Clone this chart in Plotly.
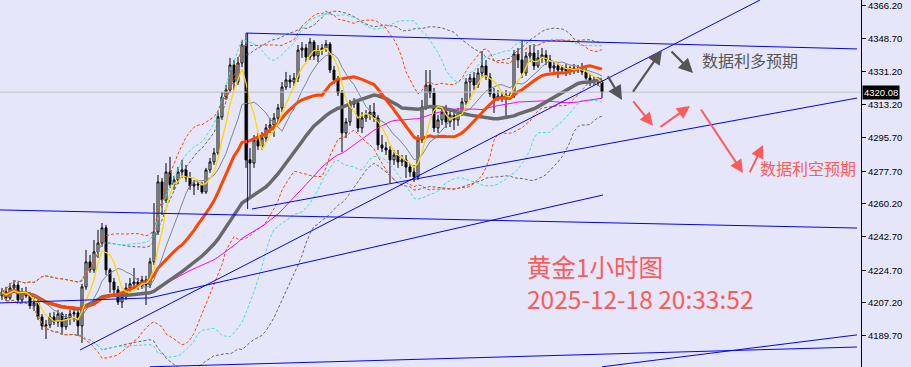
import plotly.graph_objects as go
import pandas as pd

# ---------------- data (gold 1H candles) ----------------
opens = [4211.0,4213.1,4209.9,4215.2,4216.8,4208.8,4213.1,4211.0,4205.6,4207.2,
         4199.7,4194.9,4195.4,4199.7,4197.0,4201.3,4194.4,4199.2,4201.3,4201.9,
         4194.9,4215.8,4229.2,4224.9,4234.5,4239.3,4247.4,4224.9,4218.4,4214.2,
         4207.7,4210.4,4215.2,4217.4,4218.4,4216.3,4219.5,4216.8,4229.2,4245.2,
         4272.0,4262.3,4277.3,4270.4,4273.0,4277.3,4278.4,4274.1,4269.8,4270.9,
         4270.4,4266.6,4278.4,4282.7,4287.5,4306.8,4317.5,4321.2,4334.6,4325.5,
         4335.7,4345.3,4283.8,4282.1,4294.5,4291.2,4295.5,4300.9,4302.5,4306.2,
         4311.6,4322.8,4326.6,4325.5,4327.6,4342.6,4343.7,4338.9,4346.9,4339.4,
         4342.6,4343.7,4345.8,4331.9,4326.6,4319.6,4298.2,4304.1,4313.7,4314.3,
         4300.9,4306.2,4307.8,4309.4,4306.2,4291.8,4290.2,4289.1,4283.8,4286.4,
         4282.7,4283.8,4280.0,4277.3,4274.7,4294.5,4312.1,4323.9,4319.6,4300.9,
         4305.2,4309.4,4304.1,4307.8,4305.2,4309.4,4314.8,4325.5,4327.6,4323.9,
         4330.3,4334.1,4328.2,4319.1,4316.9,4318.0,4316.9,4318.5,4318.0,4340.5,
         4337.3,4330.3,4339.4,4341.0,4334.1,4338.4,4340.0,4337.3,4333.0,4334.1,
         4331.9,4333.0,4331.4,4333.0,4331.9,4333.0,4330.9,4327.6,4325.5,4326.6,
         4325.5]
highs = [4215.2,4215.8,4217.9,4219.5,4218.4,4215.2,4215.8,4213.1,4209.9,4208.8,
         4201.3,4198.1,4201.9,4202.4,4203.5,4202.4,4201.3,4203.5,4204.5,4203.5,
         4217.4,4235.6,4232.9,4240.9,4246.3,4250.0,4249.0,4225.9,4220.6,4216.3,
         4213.1,4217.9,4220.6,4225.9,4220.6,4221.7,4221.7,4231.3,4260.7,4275.7,
         4274.1,4282.1,4285.4,4275.2,4280.0,4283.8,4281.1,4277.3,4273.0,4273.0,
         4272.0,4279.5,4284.8,4290.2,4309.4,4320.2,4323.9,4338.4,4337.3,4338.9,
         4348.0,4351.7,4290.2,4297.1,4298.2,4298.7,4303.0,4306.2,4308.9,4313.7,
         4325.5,4330.9,4329.3,4330.3,4345.3,4346.9,4345.8,4349.1,4348.0,4345.3,
         4345.8,4348.0,4346.9,4334.1,4328.7,4321.2,4306.2,4315.9,4316.9,4315.9,
         4309.4,4310.5,4313.2,4314.3,4307.8,4297.1,4293.4,4291.2,4289.1,4289.1,
         4286.4,4286.4,4282.1,4281.1,4297.1,4315.9,4331.9,4331.9,4322.3,4307.8,
         4311.6,4313.2,4310.5,4310.5,4311.6,4316.9,4327.6,4329.8,4330.9,4333.0,
         4342.1,4337.3,4330.3,4322.3,4321.2,4320.2,4321.2,4320.2,4342.6,4343.7,
         4348.0,4341.6,4345.3,4345.8,4342.6,4343.7,4342.6,4340.0,4336.2,4335.7,
         4334.6,4335.1,4334.1,4335.1,4334.6,4335.7,4333.0,4329.8,4328.7,4328.2,
         4326.6]
lows = [4208.8,4208.3,4208.8,4213.1,4207.7,4207.2,4209.9,4204.0,4202.9,4198.1,
        4192.8,4187.9,4193.8,4195.4,4194.4,4190.6,4192.8,4195.4,4197.0,4189.5,
        4185.8,4214.2,4223.3,4223.3,4231.3,4237.2,4222.2,4212.6,4211.5,4206.1,
        4204.5,4208.8,4213.1,4214.7,4214.2,4214.7,4206.1,4215.2,4227.5,4243.6,
        4254.3,4260.7,4268.8,4267.7,4270.9,4274.1,4272.0,4267.7,4265.0,4267.7,
        4265.6,4265.6,4276.8,4281.1,4286.4,4305.2,4315.9,4319.6,4321.2,4323.9,
        4333.5,4279.5,4263.9,4279.5,4289.1,4289.1,4293.4,4298.2,4296.1,4304.1,
        4309.4,4321.2,4322.3,4323.4,4325.5,4338.4,4336.2,4337.3,4337.3,4336.2,
        4340.0,4341.6,4330.3,4324.4,4318.0,4288.0,4295.5,4302.0,4311.6,4298.7,
        4298.2,4304.1,4305.2,4304.1,4289.1,4288.0,4286.4,4271.4,4281.1,4279.5,
        4280.5,4274.1,4274.7,4272.0,4273.0,4292.9,4310.5,4316.9,4298.7,4298.2,
        4302.5,4300.9,4301.4,4299.8,4302.0,4307.3,4313.2,4315.9,4321.2,4322.3,
        4327.6,4326.6,4317.5,4308.9,4315.3,4314.8,4306.8,4315.9,4316.9,4333.0,
        4327.6,4328.7,4336.2,4331.9,4333.0,4335.7,4334.6,4330.9,4329.3,4327.6,
        4329.8,4328.7,4329.3,4329.8,4330.3,4329.3,4326.6,4323.4,4323.9,4323.4,
        4316.9]
closes = [4213.1,4209.9,4215.2,4216.8,4208.8,4213.1,4211.0,4205.6,4207.2,4199.7,
          4194.9,4195.4,4199.7,4197.0,4201.3,4194.4,4199.2,4201.3,4201.9,4194.9,
          4215.8,4229.2,4224.9,4234.5,4239.3,4247.4,4224.9,4218.4,4214.2,4207.7,
          4210.4,4215.2,4217.4,4218.4,4216.3,4219.5,4216.8,4229.2,4245.2,4272.0,
          4262.3,4277.3,4270.4,4273.0,4277.3,4278.4,4274.1,4269.8,4270.9,4270.4,
          4266.6,4278.4,4282.7,4287.5,4306.8,4317.5,4321.2,4334.6,4325.5,4335.7,
          4345.3,4283.8,4282.1,4294.5,4291.2,4295.5,4300.9,4302.5,4306.2,4311.6,
          4322.8,4326.6,4325.5,4327.6,4342.6,4343.7,4338.9,4346.9,4339.4,4342.6,
          4343.7,4345.8,4331.9,4326.6,4319.6,4298.2,4304.1,4313.7,4314.3,4300.9,
          4306.2,4307.8,4309.4,4306.2,4291.8,4290.2,4289.1,4283.8,4286.4,4282.7,
          4283.8,4280.0,4277.3,4274.7,4294.5,4312.1,4323.9,4319.6,4300.9,4305.2,
          4309.4,4304.1,4307.8,4305.2,4309.4,4314.8,4325.5,4327.6,4323.9,4330.3,
          4334.1,4328.2,4319.1,4316.9,4318.0,4316.9,4318.5,4318.0,4340.5,4337.3,
          4330.3,4339.4,4341.0,4334.1,4338.4,4340.0,4337.3,4333.0,4334.1,4331.9,
          4333.0,4331.4,4333.0,4331.9,4333.0,4330.9,4327.6,4325.5,4326.6,4325.5,
          4320.08]
bars = list(range(len(closes)))
last_price = 4320.08

tick_vals = [4366.20, 4348.70, 4331.20, 4313.20, 4295.70, 4277.70,
             4260.20, 4242.70, 4224.70, 4207.20, 4189.70]
tick_text = ["%.2f" % v for v in tick_vals]

# trendlines: (bar index, price) pairs
trend_a = ([19.5, 189.5], [4182.0, 4369.4])
trend_b = ([62.5, 213.75], [4257.5, 4316.9])
trend_c = ([-0.5, 213.75], [4257.0, 4247.3])
trend_top = ([61.0, 213.75], [4351.7, 4343.2])
trend_vert = ([61.4, 61.4], [4351.7, 4257.5])
trend_d = ([-0.5, 37.0, 150.25], [4207.2, 4209.9, 4265.0])
trend_e = ([37.0, 213.75], [4173.0, 4183.6])
trend_f = ([150.0, 213.75], [4173.0, 4190.1])

# arrows: (tail bar, tail price, head bar, head price)
gray_arrows = [(151.25, 4329.3, 155.0, 4315.9),
               (157.5, 4319.6, 165.0, 4342.6),
               (167.0, 4342.6, 172.75, 4330.3)]
red_arrows = [(157.5, 4315.9, 162.75, 4302.1),
              (164.25, 4300.9, 172.0, 4312.7),
              (174.5, 4311.6, 185.25, 4276.8),
              (186.75, 4276.3, 190.25, 4291.8)]

# ---------------- indicators ----------------
cs = pd.Series(closes)
def sma(n):
    return cs.rolling(n, min_periods=1).mean()
def bands(n, k):
    m = cs.rolling(n, min_periods=1).mean()
    s = cs.rolling(n, min_periods=1).std(ddof=0)
    return m + k * s, m - k * s

BG = "#E6E6FA"
fig = go.Figure()

fig.add_trace(go.Candlestick(
    x=bars, open=opens, high=highs, low=lows, close=closes,
    increasing=dict(line=dict(color="black", width=1), fillcolor="white"),
    decreasing=dict(line=dict(color="black", width=1), fillcolor="black"),
    whiskerwidth=0, showlegend=False, hoverinfo="skip"))

dash = "3px,2px"
for (n, k, col) in [(40, 2.0, "#696969"), (30, 2.0, "#40E0D0"), (20, 2.0, "#FF4500")]:
    up, dn = bands(n, k)
    for ser in (up, dn):
        fig.add_trace(go.Scatter(x=bars, y=ser, mode="lines",
                                 line=dict(color=col, width=1, dash=dash),
                                 showlegend=False, hoverinfo="skip"))

for (n, col, w) in [(60, "#FF00FF", 1), (40, "#696969", 3.5), (20, "#FF4500", 3),
                    (10, "#778899", 1), (5, "#FFD700", 1.3)]:
    fig.add_trace(go.Scatter(x=bars, y=sma(n), mode="lines",
                             line=dict(color=col, width=w),
                             showlegend=False, hoverinfo="skip"))

# current price line
fig.add_trace(go.Scatter(x=[-0.5, 214.75], y=[last_price, last_price], mode="lines",
                         line=dict(color="#C0C0C0", width=1),
                         showlegend=False, hoverinfo="skip"))

for tl in [trend_a, trend_b, trend_c, trend_top, trend_vert, trend_d, trend_e, trend_f]:
    fig.add_trace(go.Scatter(x=tl[0], y=tl[1], mode="lines",
                             line=dict(color="#0000FF", width=1),
                             showlegend=False, hoverinfo="skip"))

ann = []
for (tx, ty, hx, hy) in gray_arrows:
    ann.append(dict(x=hx, y=hy, ax=tx, ay=ty, xref="x", yref="y", axref="x", ayref="y",
                    showarrow=True, arrowhead=2, arrowsize=1.3, arrowwidth=2.2,
                    arrowcolor="#555555", text=""))
for (tx, ty, hx, hy) in red_arrows:
    ann.append(dict(x=hx, y=hy, ax=tx, ay=ty, xref="x", yref="y", axref="x", ayref="y",
                    showarrow=True, arrowhead=2, arrowsize=1.3, arrowwidth=2,
                    arrowcolor="#FF5A5A", text=""))

cjk = "Noto Sans CJK SC"
ann.append(dict(x=700/861, y=1-60/367, xref="paper", yref="paper", xanchor="left",
                yanchor="middle", showarrow=False, text="数据利多预期",
                font=dict(family=cjk, size=16, color="#555555")))
ann.append(dict(x=758/861, y=1-168/367, xref="paper", yref="paper", xanchor="left",
                yanchor="middle", showarrow=False, text="数据利空预期",
                font=dict(family=cjk, size=16, color="#FF5A5A")))
ann.append(dict(x=525/861, y=1-282/367, xref="paper", yref="paper", xanchor="left",
                yanchor="middle", showarrow=False, align="left",
                text="黄金1小时图<br>2025-12-18 20:33:52",
                font=dict(family=cjk, size=24.5, color="#FF5A5A")))
ann.append(dict(x=1, y=last_price, xref="paper", yref="y", xanchor="left",
                yanchor="middle", xshift=1, showarrow=False, text="%.2f" % last_price,
                bgcolor="black", borderpad=1,
                font=dict(family="Liberation Sans", size=9.5, color="white")))

fig.update_layout(
    width=911, height=367, margin=dict(l=0, r=50, t=0, b=0),
    paper_bgcolor=BG, plot_bgcolor=BG, showlegend=False,
    annotations=ann,
    xaxis=dict(range=[-0.5, 214.75], showgrid=False, zeroline=False,
               showticklabels=False, ticks="", rangeslider=dict(visible=False),
               showline=False, fixedrange=True),
    yaxis=dict(range=[4172.9, 4369.4], side="right", showgrid=False, zeroline=False,
               tickvals=tick_vals, ticktext=tick_text, ticks="outside", ticklen=4,
               tickcolor="black", showline=True, linecolor="black", linewidth=1,
               tickfont=dict(family="Liberation Sans", size=9.5, color="black"),
               fixedrange=True),
)

fig.write_html("out.html")
